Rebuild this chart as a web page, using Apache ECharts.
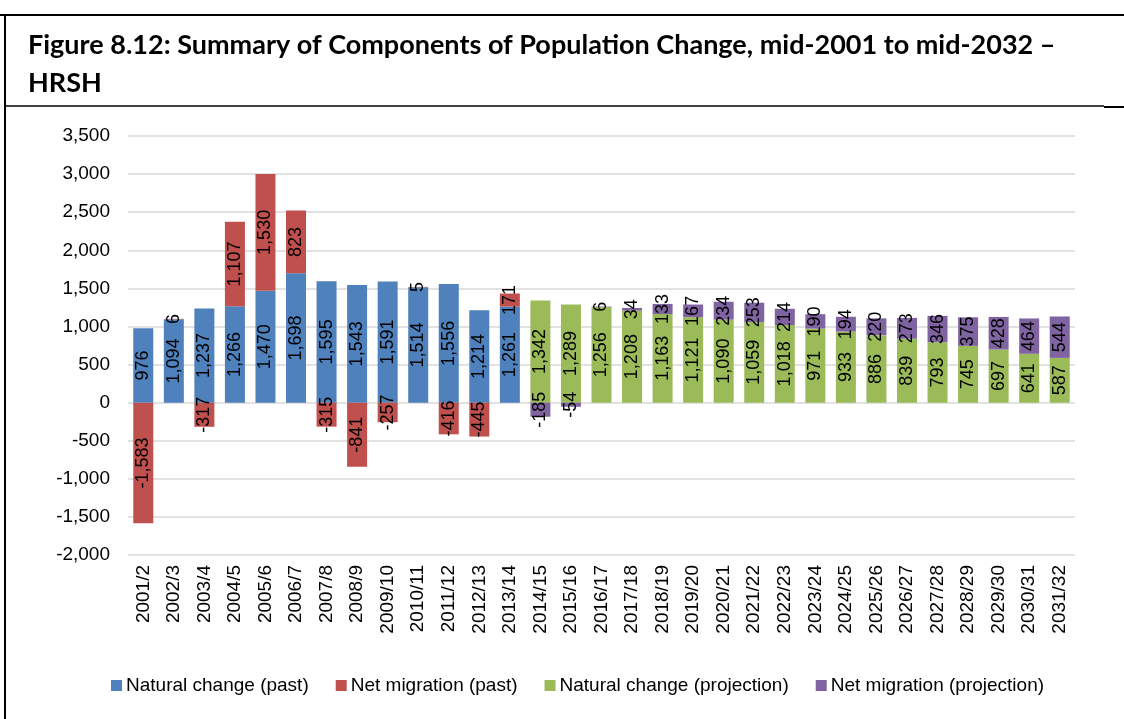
<!DOCTYPE html>
<html>
<head>
<meta charset="utf-8">
<script src="https://cdn.jsdelivr.net/npm/echarts@6/dist/echarts.min.js"></script>
<style>
html,body{margin:0;padding:0;background:#fff;}
#c{width:1124px;height:719px;}
</style>
</head>
<body>
<div id="c"></div>
<script>
const categories = ['2001/2','2002/3','2003/4','2004/5','2005/6','2006/7','2007/8','2008/9','2009/10','2010/11','2011/12','2012/13','2013/14','2014/15','2015/16','2016/17','2017/18','2018/19','2019/20','2020/21','2021/22','2022/23','2023/24','2024/25','2025/26','2026/27','2027/28','2028/29','2029/30','2030/31','2031/32'];
const naturalPast = [976,1094,1237,1266,1470,1698,1595,1543,1591,1514,1556,1214,1261];
const migrationPast = [-1583,6,-317,1107,1530,823,-315,-841,-257,5,-416,-445,171];
const naturalProj = [1342,1289,1256,1208,1163,1121,1090,1059,1018,971,933,886,839,793,745,697,641,587];
const migrationProj = [-185,-54,6,34,133,167,234,253,214,190,194,220,273,346,375,428,464,544];
const yTicks = {min:-2000, max:3500, interval:500};

const padEnd = (arr) => arr.concat(new Array(categories.length - arr.length).fill(null));
const padStart = (arr) => new Array(categories.length - arr.length).fill(null).concat(arr);

const FONT = 'Liberation Sans, Arial, sans-serif';
const fmt = (v) => Number(v).toLocaleString('en-US');
const labelCfg = {
  show: true, position: 'inside', rotate: 90, color: '#000',
  fontFamily: FONT, fontSize: 18,
  formatter: (p) => p.value == null ? '' : fmt(p.value)
};

function bar(name, data, color) {
  return {
    name, type: 'bar', stack: 'all', data, barWidth: 20,
    itemStyle: {color},
    label: labelCfg,
    labelLayout: {hideOverlap: false}
  };
}

const chart = echarts.init(document.getElementById('c'));
chart.setOption({
  animation: false,
  backgroundColor: '#fff',
  title: {
    text: 'Figure 8.12: Summary of Components of Population Change, mid-2001 to mid-2032 –\nHRSH',
    left: 23, top: 21,
    textStyle: {fontFamily: 'Lato, Noto Sans, sans-serif', fontWeight: 'bold', fontSize: 27, lineHeight: 38, color: '#000'}
  },
  graphic: [
    {type: 'line', shape: {x1: 0, y1: 15, x2: 1124, y2: 15}, style: {stroke: '#000', lineWidth: 2}},
    {type: 'line', shape: {x1: 5, y1: 14, x2: 5, y2: 719}, style: {stroke: '#000', lineWidth: 2}},
    {type: 'line', shape: {x1: 5, y1: 106, x2: 1104, y2: 106}, style: {stroke: '#000', lineWidth: 1.5}},
    {type: 'line', shape: {x1: 1104, y1: 107, x2: 1124, y2: 107}, style: {stroke: '#000', lineWidth: 2}}
  ],
  grid: {left: 128, right: 49, top: 136, bottom: 164, containLabel: false},
  legend: {
    left: 106, top: 671, itemWidth: 11, itemHeight: 11, itemGap: 27, icon: 'rect',
    textStyle: {fontFamily: FONT, fontSize: 19, color: '#000', padding: [0,0,0,-1]},
    data: ['Natural change (past)','Net migration (past)','Natural change (projection)','Net migration (projection)']
  },
  xAxis: {
    type: 'category', data: categories,
    axisLine: {show: false},
    axisTick: {show: false},
    axisLabel: {rotate: 90, interval: 0, color: '#000', fontFamily: FONT, fontSize: 19, margin: 10}
  },
  yAxis: {
    type: 'value', min: yTicks.min, max: yTicks.max, interval: yTicks.interval,
    axisLine: {show: false}, axisTick: {show: false},
    splitLine: {lineStyle: {color: '#d9d9d9', width: 1.5}},
    axisLabel: {color: '#000', fontFamily: FONT, fontSize: 19, margin: 18, formatter: (v) => fmt(v)}
  },
  series: [
    bar('Natural change (past)', padEnd(naturalPast), '#4F81BD'),
    bar('Net migration (past)', padEnd(migrationPast), '#C0504D'),
    bar('Natural change (projection)', padStart(naturalProj), '#9BBB59'),
    bar('Net migration (projection)', padStart(migrationProj), '#8064A2')
  ]
});
</script>
</body>
</html>
